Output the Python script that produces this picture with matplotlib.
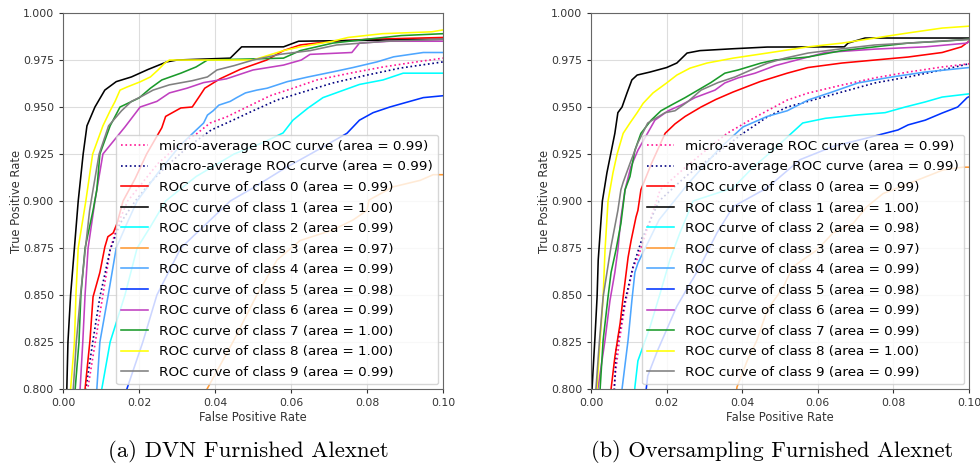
import matplotlib.pyplot as plt

# ---- data (fpr, tpr) ----
class_colors = ['red', 'black', 'aqua', '#ff9933', '#4da6ff', '#0033ff', '#c040c0', '#1a9a2a', 'yellow', 'gray']

# (a) DVN Furnished Alexnet
dvn_micro = ([0.005, 0.0065, 0.0085, 0.0105, 0.0125, 0.0145, 0.017, 0.021, 0.025, 0.030, 0.0353, 0.0387, 0.043, 0.0484, 0.0545, 0.0605, 0.0668, 0.0755, 0.0842, 0.093, 0.1],
             [0.79, 0.8, 0.825, 0.85, 0.875, 0.888, 0.9, 0.91, 0.92, 0.929, 0.936, 0.9415, 0.9447, 0.95, 0.956, 0.96, 0.9644, 0.968, 0.9713, 0.974, 0.976])
dvn_macro = ([0.0055, 0.006, 0.0079, 0.0097, 0.0124, 0.015, 0.019, 0.023, 0.028, 0.033, 0.039, 0.0447, 0.05, 0.0563, 0.0632, 0.071, 0.08, 0.0887, 0.1],
             [0.79, 0.8, 0.826, 0.849, 0.874, 0.888, 0.9, 0.91, 0.92, 0.929, 0.9378, 0.943, 0.948, 0.9537, 0.958, 0.9628, 0.967, 0.9707, 0.974])
dvn_c0 = ([0.0055, 0.0058, 0.0071, 0.0079, 0.0097, 0.011, 0.0118, 0.0132, 0.0142, 0.0158, 0.019, 0.022, 0.026, 0.027, 0.031, 0.034, 0.036, 0.0373, 0.0413, 0.0466, 0.0536, 0.058, 0.0624, 0.071, 0.08, 0.1],
          [0.79, 0.8, 0.826, 0.849, 0.862, 0.8755, 0.881, 0.883, 0.888, 0.9, 0.912, 0.925, 0.939, 0.945, 0.9495, 0.95, 0.956, 0.96, 0.965, 0.97, 0.975, 0.98, 0.983, 0.985, 0.986, 0.987])
dvn_c1 = ([0.0009, 0.001, 0.0013, 0.002, 0.003, 0.004, 0.0053, 0.0063, 0.0084, 0.011, 0.014, 0.018, 0.0224, 0.0273, 0.03, 0.044, 0.047, 0.058, 0.062, 0.1],
          [0.79, 0.8, 0.825, 0.85, 0.875, 0.9, 0.925, 0.94, 0.95, 0.959, 0.9635, 0.966, 0.97, 0.974, 0.975, 0.976, 0.982, 0.982, 0.985, 0.986])
dvn_c2 = ([0.0098, 0.0102, 0.0124, 0.0163, 0.0195, 0.0229, 0.027, 0.035, 0.045, 0.0525, 0.0579, 0.0605, 0.0645, 0.0684, 0.0747, 0.078, 0.0842, 0.0895, 0.1],
          [0.79, 0.8, 0.825, 0.85, 0.875, 0.886, 0.9, 0.913, 0.925, 0.931, 0.9362, 0.943, 0.9495, 0.955, 0.9596, 0.962, 0.9644, 0.968, 0.968])
dvn_c3 = ([0.037, 0.0379, 0.0447, 0.051, 0.0563, 0.0624, 0.071, 0.0763, 0.08, 0.0805, 0.0868, 0.094, 0.0974, 0.1],
          [0.79, 0.8, 0.825, 0.85, 0.8686, 0.879, 0.8846, 0.8899, 0.895, 0.9005, 0.9075, 0.911, 0.914, 0.914])
dvn_c4 = ([0.0085, 0.0089, 0.0097, 0.0119, 0.014, 0.0168, 0.0195, 0.025, 0.031, 0.037, 0.038, 0.0395, 0.041, 0.044, 0.0457, 0.048, 0.051, 0.0537, 0.059, 0.0645, 0.071, 0.0763, 0.0826, 0.087, 0.0948, 0.1],
          [0.79, 0.8, 0.825, 0.85, 0.875, 0.888, 0.9, 0.915, 0.93, 0.9415, 0.9457, 0.948, 0.951, 0.953, 0.955, 0.9575, 0.959, 0.96, 0.9635, 0.966, 0.9687, 0.971, 0.974, 0.9767, 0.979, 0.979])
dvn_c5 = ([0.0165, 0.0168, 0.021, 0.0247, 0.031, 0.044, 0.05, 0.058, 0.066, 0.0747, 0.078, 0.0816, 0.086, 0.0895, 0.0948, 0.1],
          [0.79, 0.8, 0.825, 0.85, 0.875, 0.9, 0.907, 0.917, 0.926, 0.936, 0.943, 0.947, 0.95, 0.952, 0.955, 0.956])
dvn_c6 = ([0.0043, 0.0045, 0.0052, 0.0058, 0.0066, 0.0084, 0.0105, 0.0163, 0.0203, 0.0247, 0.028, 0.0326, 0.037, 0.043, 0.05, 0.058, 0.0627, 0.065, 0.076, 0.078, 0.086, 0.1],
          [0.79, 0.8, 0.825, 0.85, 0.875, 0.9, 0.925, 0.9394, 0.95, 0.953, 0.9575, 0.96, 0.963, 0.965, 0.9697, 0.9723, 0.975, 0.978, 0.979, 0.984, 0.985, 0.985])
dvn_c7 = ([0.003, 0.0032, 0.0042, 0.0047, 0.0058, 0.0079, 0.0089, 0.0097, 0.0124, 0.015, 0.02, 0.023, 0.026, 0.031, 0.035, 0.038, 0.058, 0.0624, 0.071, 0.0797, 0.089, 0.1],
          [0.79, 0.8, 0.825, 0.85, 0.875, 0.895, 0.906, 0.925, 0.94, 0.95, 0.9548, 0.96, 0.9644, 0.968, 0.9713, 0.975, 0.976, 0.98, 0.984, 0.986, 0.988, 0.989])
dvn_c8 = ([0.0018, 0.002, 0.003, 0.0034, 0.004, 0.006, 0.0078, 0.0105, 0.0124, 0.0137, 0.015, 0.0168, 0.0203, 0.023, 0.025, 0.0268, 0.028, 0.05, 0.058, 0.0624, 0.071, 0.075, 0.084, 0.097, 0.1],
          [0.79, 0.8, 0.825, 0.85, 0.875, 0.9, 0.925, 0.94, 0.948, 0.953, 0.959, 0.9606, 0.9634, 0.966, 0.9697, 0.9734, 0.975, 0.975, 0.98, 0.982, 0.985, 0.987, 0.989, 0.99, 0.991])
dvn_c9 = ([0.0025, 0.0027, 0.0035, 0.0046, 0.0059, 0.007, 0.0079, 0.0095, 0.012, 0.0154, 0.018, 0.021, 0.0237, 0.028, 0.034, 0.038, 0.0405, 0.045, 0.05, 0.057, 0.065, 0.072, 0.085, 0.1],
          [0.79, 0.8, 0.825, 0.85, 0.875, 0.895, 0.906, 0.925, 0.94, 0.948, 0.953, 0.956, 0.959, 0.9618, 0.964, 0.966, 0.9697, 0.972, 0.975, 0.978, 0.98, 0.983, 0.985, 0.986])
dvn_areas = ['0.99', '1.00', '0.99', '0.97', '0.99', '0.98', '0.99', '1.00', '1.00', '0.99']

# (b) Oversampling Furnished Alexnet
ovs_micro = ([0.0055, 0.006, 0.0075, 0.0092, 0.0112, 0.0124, 0.0183, 0.025, 0.031, 0.036, 0.042, 0.0466, 0.0519, 0.0574, 0.0664, 0.0751, 0.0839, 0.0929, 0.1],
             [0.79, 0.8, 0.826, 0.847, 0.865, 0.87, 0.906, 0.918, 0.928, 0.936, 0.943, 0.948, 0.9537, 0.9574, 0.9617, 0.9655, 0.9686, 0.9713, 0.973])
ovs_macro = ([0.006, 0.0066, 0.0071, 0.009, 0.0111, 0.0135, 0.018, 0.025, 0.033, 0.0402, 0.0466, 0.0519, 0.0574, 0.0664, 0.0751, 0.0839, 0.0929, 0.1],
             [0.79, 0.82, 0.826, 0.847, 0.865, 0.88, 0.9, 0.913, 0.925, 0.936, 0.9447, 0.95, 0.953, 0.958, 0.9628, 0.966, 0.9697, 0.973])
ovs_c0 = ([0.005, 0.0053, 0.0063, 0.0077, 0.0085, 0.0098, 0.0106, 0.0119, 0.0124, 0.0132, 0.016, 0.0196, 0.0222, 0.0249, 0.0291, 0.033, 0.0376, 0.0447, 0.0519, 0.0574, 0.0664, 0.0751, 0.0839, 0.0929, 0.098, 0.1],
          [0.79, 0.8, 0.817, 0.835, 0.849, 0.87, 0.879, 0.8915, 0.895, 0.906, 0.92, 0.936, 0.941, 0.945, 0.95, 0.954, 0.958, 0.9635, 0.968, 0.971, 0.9734, 0.975, 0.9766, 0.979, 0.982, 0.985])
ovs_c1 = ([0.0, 0.0005, 0.001, 0.0016, 0.0019, 0.0024, 0.003, 0.0042, 0.005, 0.0063, 0.0071, 0.0082, 0.0095, 0.0108, 0.0122, 0.0156, 0.02, 0.0227, 0.0254, 0.0288, 0.0376, 0.0466, 0.067, 0.068, 0.0725, 0.1],
          [0.79, 0.8085, 0.826, 0.849, 0.8686, 0.883, 0.9, 0.915, 0.923, 0.936, 0.947, 0.95, 0.9574, 0.9644, 0.967, 0.9686, 0.971, 0.9734, 0.9787, 0.98, 0.981, 0.9819, 0.982, 0.984, 0.9867, 0.9867])
ovs_c2 = ([0.0113, 0.0116, 0.0124, 0.0156, 0.0183, 0.0209, 0.0235, 0.027, 0.0376, 0.0429, 0.0487, 0.053, 0.056, 0.062, 0.0706, 0.0778, 0.0831, 0.0884, 0.0929, 0.1],
          [0.79, 0.801, 0.815, 0.833, 0.851, 0.869, 0.883, 0.9, 0.907, 0.918, 0.928, 0.936, 0.9415, 0.944, 0.9458, 0.947, 0.95, 0.9527, 0.9553, 0.957])
ovs_c3 = ([0.038, 0.0386, 0.0413, 0.0439, 0.0466, 0.0508, 0.0534, 0.0598, 0.064, 0.0693, 0.073, 0.0773, 0.0862, 0.0931, 0.0984, 0.1],
          [0.79, 0.801, 0.815, 0.826, 0.842, 0.854, 0.865, 0.874, 0.883, 0.888, 0.897, 0.904, 0.911, 0.9165, 0.918, 0.918])
ovs_c4 = ([0.0078, 0.0082, 0.0098, 0.0108, 0.0116, 0.0124, 0.018, 0.026, 0.034, 0.0402, 0.0466, 0.0519, 0.0574, 0.0638, 0.0706, 0.0796, 0.0884, 0.1],
          [0.79, 0.8, 0.826, 0.847, 0.862, 0.867, 0.89, 0.91, 0.928, 0.9394, 0.945, 0.948, 0.9537, 0.958, 0.9628, 0.966, 0.9686, 0.971])
ovs_c5 = ([0.0144, 0.0146, 0.015, 0.0175, 0.0227, 0.0288, 0.0333, 0.0376, 0.0466, 0.0553, 0.064, 0.072, 0.0812, 0.0839, 0.0884, 0.0929, 0.097, 0.0995, 0.1],
          [0.79, 0.8, 0.807, 0.82, 0.844, 0.865, 0.883, 0.897, 0.907, 0.922, 0.929, 0.933, 0.9378, 0.9405, 0.943, 0.9468, 0.95, 0.955, 0.9555])
ovs_c6 = ([0.0016, 0.0018, 0.0037, 0.005, 0.0063, 0.0071, 0.0079, 0.009, 0.0105, 0.0124, 0.0169, 0.0204, 0.0238, 0.0275, 0.0328, 0.0354, 0.0389, 0.0434, 0.0487, 0.062, 0.0751, 0.0884, 0.0995, 0.1],
          [0.79, 0.8, 0.826, 0.847, 0.862, 0.874, 0.891, 0.906, 0.918, 0.927, 0.943, 0.948, 0.951, 0.955, 0.959, 0.9628, 0.9655, 0.968, 0.972, 0.979, 0.9808, 0.982, 0.984, 0.985])
ovs_c7 = ([0.0022, 0.0024, 0.0032, 0.0045, 0.0053, 0.0066, 0.0079, 0.009, 0.0103, 0.0116, 0.0132, 0.0159, 0.0185, 0.0212, 0.0249, 0.0283, 0.0317, 0.0354, 0.0389, 0.045, 0.0487, 0.0574, 0.0664, 0.0751, 0.0839, 0.0929, 0.1],
          [0.79, 0.8, 0.826, 0.849, 0.862, 0.874, 0.888, 0.906, 0.913, 0.927, 0.936, 0.943, 0.948, 0.951, 0.955, 0.959, 0.963, 0.968, 0.9697, 0.9734, 0.975, 0.9766, 0.98, 0.982, 0.984, 0.985, 0.986])
ovs_c8 = ([0.0014, 0.0016, 0.0024, 0.0032, 0.0037, 0.0045, 0.0058, 0.0069, 0.0085, 0.0103, 0.0122, 0.0138, 0.0164, 0.02, 0.0227, 0.0262, 0.0307, 0.0376, 0.0466, 0.0574, 0.0664, 0.0751, 0.0839, 0.0929, 0.1],
          [0.79, 0.801, 0.826, 0.849, 0.874, 0.9, 0.915, 0.925, 0.936, 0.9415, 0.947, 0.952, 0.9575, 0.9628, 0.967, 0.9707, 0.9734, 0.976, 0.9787, 0.982, 0.984, 0.9867, 0.9894, 0.992, 0.993])
ovs_c9 = ([0.0011, 0.0013, 0.0022, 0.0032, 0.0053, 0.0071, 0.0079, 0.0085, 0.0103, 0.0124, 0.015, 0.0196, 0.0222, 0.0257, 0.0291, 0.0336, 0.0381, 0.0423, 0.0468, 0.0513, 0.0574, 0.0664, 0.0751, 0.0839, 0.1],
          [0.79, 0.8, 0.825, 0.849, 0.876, 0.895, 0.906, 0.91, 0.92, 0.931, 0.9415, 0.947, 0.948, 0.953, 0.959, 0.963, 0.966, 0.9697, 0.9734, 0.976, 0.9787, 0.981, 0.983, 0.984, 0.986])
ovs_areas = ['0.99', '1.00', '0.98', '0.97', '0.99', '0.98', '0.99', '0.99', '1.00', '0.99']

dvn_classes = [dvn_c0, dvn_c1, dvn_c2, dvn_c3, dvn_c4, dvn_c5, dvn_c6, dvn_c7, dvn_c8, dvn_c9]
ovs_classes = [ovs_c0, ovs_c1, ovs_c2, ovs_c3, ovs_c4, ovs_c5, ovs_c6, ovs_c7, ovs_c8, ovs_c9]


def draw_panel(ax, micro, macro, classes, areas):
    ax.plot(micro[0], micro[1], color='deeppink', linestyle=':', lw=1.2,
            label='micro-average ROC curve (area = 0.99)')
    ax.plot(macro[0], macro[1], color='navy', linestyle=':', lw=1.2,
            label='macro-average ROC curve (area = 0.99)')
    for i, (curve, area) in enumerate(zip(classes, areas)):
        ax.plot(curve[0], curve[1], color=class_colors[i], lw=1.15,
                label='ROC curve of class {0} (area = {1})'.format(i, area))
    ax.set_xlim(0.0, 0.1)
    ax.set_ylim(0.8, 1.0)
    ax.set_xticks([0.0, 0.02, 0.04, 0.06, 0.08, 0.1])
    ax.set_xticklabels(['0.00', '0.02', '0.04', '0.06', '0.08', '0.10'])
    ax.set_yticks([0.8, 0.825, 0.85, 0.875, 0.9, 0.925, 0.95, 0.975, 1.0])
    ax.set_yticklabels(['0.800', '0.825', '0.850', '0.875', '0.900', '0.925', '0.950', '0.975', '1.000'])
    ax.tick_params(labelsize=7.8, colors='#333333', length=3)
    ax.set_xlabel('False Positive Rate', fontsize=8.3, color='#333333', labelpad=2)
    ax.set_ylabel('True Positive Rate', fontsize=8.3, color='#333333', labelpad=0)
    ax.grid(True, color='#dddddd', lw=0.8)
    for s in ax.spines.values():
        s.set_color('#666666')
    ax.legend(loc='lower right', fontsize=9.7, labelspacing=0.56, borderaxespad=0.35)


fig = plt.figure(figsize=(9.8, 4.65), dpi=100)
ax1 = fig.add_axes([0.0643, 0.1634, 0.3878, 0.8086])
ax2 = fig.add_axes([0.6031, 0.1634, 0.3857, 0.8086])

draw_panel(ax1, dvn_micro, dvn_macro, dvn_classes, dvn_areas)
draw_panel(ax2, ovs_micro, ovs_macro, ovs_classes, ovs_areas)

fig.text(0.253, 0.028, '(a) DVN Furnished Alexnet', family='cmr10', fontsize=16.4, ha='center', va='center')
fig.text(0.788, 0.028, '(b) Oversampling Furnished Alexnet', family='cmr10', fontsize=16.2, ha='center', va='center')

fig.savefig('out.png', dpi=100)
